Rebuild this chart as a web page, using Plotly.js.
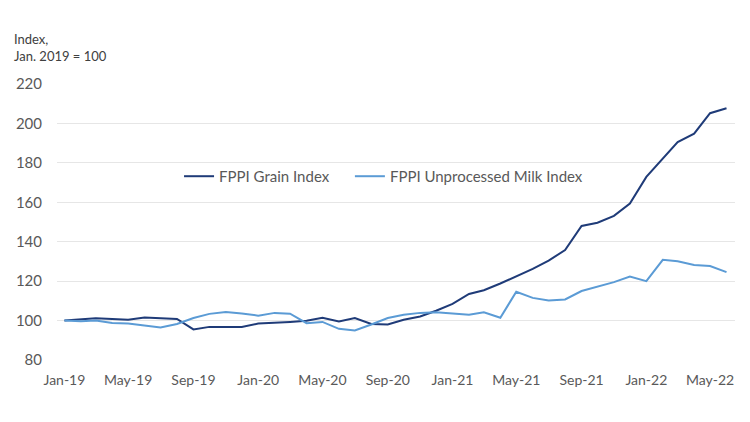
<!DOCTYPE html>
<html>
<head>
<meta charset="utf-8">
<script src="https://cdn.plot.ly/plotly-3.0.1.min.js"></script>
<style>html,body{margin:0;padding:0;background:#fff;}#chart{width:750px;height:422px;}</style>
</head>
<body>
<div id="chart"></div>
<script>
const months = [
  '2019-01-01','2019-02-01','2019-03-01','2019-04-01','2019-05-01','2019-06-01','2019-07-01','2019-08-01','2019-09-01','2019-10-01','2019-11-01','2019-12-01',
  '2020-01-01','2020-02-01','2020-03-01','2020-04-01','2020-05-01','2020-06-01','2020-07-01','2020-08-01','2020-09-01','2020-10-01','2020-11-01','2020-12-01',
  '2021-01-01','2021-02-01','2021-03-01','2021-04-01','2021-05-01','2021-06-01','2021-07-01','2021-08-01','2021-09-01','2021-10-01','2021-11-01','2021-12-01',
  '2022-01-01','2022-02-01','2022-03-01','2022-04-01','2022-05-01','2022-06-01'
];
const grainIndex = [
  100, 100.5, 101.2, 100.8, 100.4, 101.6, 101.3, 100.8, 95.5, 96.8, 96.7, 96.7,
  98.5, 98.8, 99.3, 99.9, 101.4, 99.6, 101.3, 98.3, 98.0, 100.4, 102.1, 105.0,
  108.5, 113.5, 115.4, 118.8, 122.5, 126.2, 130.4, 135.8, 148.0, 149.6, 153.1, 159.4,
  172.9, 182.3, 190.5, 194.8, 205.2, 207.7
];
const milkIndex = [
  100, 99.7, 100, 98.8, 98.5, 97.6, 96.5, 98.3, 101.3, 103.4, 104.4, 103.6,
  102.5, 103.9, 103.5, 98.7, 99.3, 95.8, 95.0, 98.0, 101.3, 103.0, 103.9, 104.2,
  103.6, 103.0, 104.2, 101.4, 114.6, 111.5, 110.2, 110.7, 115.0, 117.4, 119.5, 122.3,
  120.0, 130.8, 130.1, 128.2, 127.7, 124.6
];
const seriesNames = ['FPPI Grain Index', 'FPPI Unprocessed Milk Index'];
const yTicks = [80, 100, 120, 140, 160, 180, 200, 220];

const font = 'Lato, "Open Sans", "Liberation Sans", sans-serif';
const traces = [
  {x: months, y: grainIndex, name: seriesNames[0], type: 'scatter', mode: 'lines',
   line: {color: '#1F3B78', width: 2}, legend: 'legend'},
  {x: months, y: milkIndex, name: seriesNames[1], type: 'scatter', mode: 'lines',
   line: {color: '#5B9BD5', width: 2}, legend: 'legend2'}
];
const legendBase = {orientation: 'h', y: 0.665, xanchor: 'left', yanchor: 'middle',
  font: {family: font, size: 15, color: '#595959'}, bgcolor: 'rgba(0,0,0,0)', itemwidth: 30};
const layout = {
  width: 750, height: 422,
  margin: {l: 57, r: 15, t: 84, b: 62},
  paper_bgcolor: '#ffffff', plot_bgcolor: '#ffffff',
  font: {family: font, size: 14, color: '#595959'},
  showlegend: true,
  legend: Object.assign({}, legendBase, {x: 0.18}),
  legend2: Object.assign({}, legendBase, {x: 0.432}),
  xaxis: {type: 'date', range: ['2018-12-18', '2022-06-17'], tick0: '2019-01-01', dtick: 'M4',
          tickformat: '%b-%y', showgrid: false, zeroline: false, showline: false,
          ticks: '', tickfont: {family: font, size: 14, color: '#595959'}, ticklabelstandoff: 10},
  yaxis: {range: [80, 220], tickvals: yTicks, ticktext: yTicks.map(String),
          showgrid: true, gridcolor: '#E6E6E6', gridwidth: 1, zeroline: false, showline: false,
          ticks: '', tickfont: {family: font, size: 15, color: '#595959'}, ticklabelstandoff: 14},
  annotations: [{text: 'Index,<br>Jan. 2019 = 100', xref: 'paper', yref: 'paper',
                 x: -0.066, y: 1.2, xanchor: 'left', yanchor: 'top', align: 'left', showarrow: false,
                 font: {family: font, size: 13, color: '#404040'}}]
};
Plotly.newPlot('chart', traces, layout, {displayModeBar: false, staticPlot: true});
</script>
</body>
</html>
